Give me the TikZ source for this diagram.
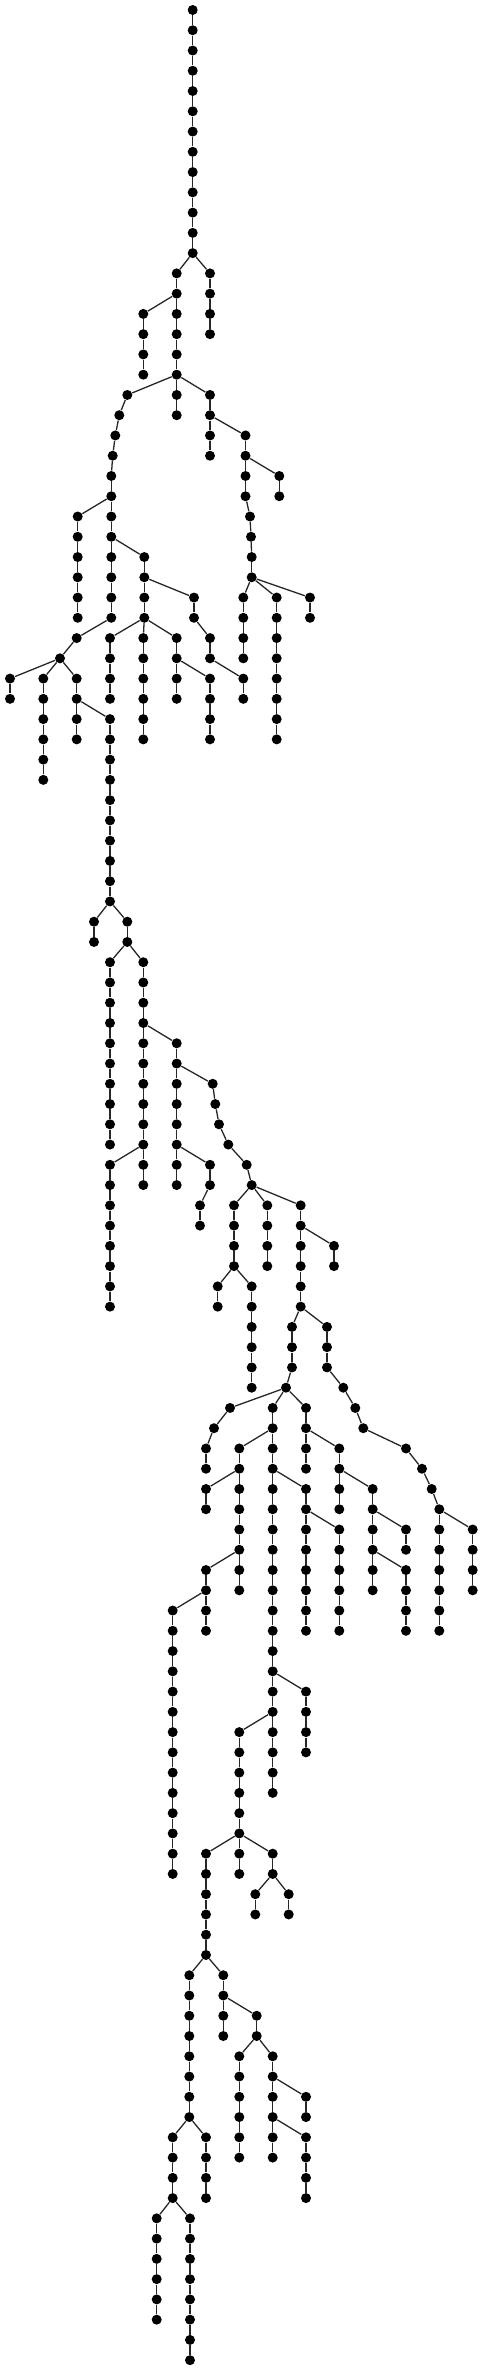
\documentclass[tikz,border=0pt]{standalone}
\usepackage{tikz}

\tikzset{
  dotnode/.style={circle,fill=black,inner sep=0pt,minimum size=5pt},
  link/.style={draw=black!85,line width=0.65pt}
}
% a vertical run of dots: [parent] name x first-level last-level
\newcommand{\chain}[5][]{%
  \foreach \l in {#4,...,#5}{%
    \node[dotnode] (#2-\l) at (#3,{-10-20.26*\l}) {};
    \ifnum\l>#4\relax\pgfmathtruncatemacro{\lp}{\l-1}\draw[link] (#2-\lp) -- (#2-\l);\fi
  }%
  \if\relax\detokenize{#1}\relax\else\draw[link] (#1) -- (#2-#4);\fi
}

\begin{document}
\begin{tikzpicture}[x=0.5pt,y=0.5pt]
	\useasboundingbox (0,0) rectangle (483,-2371);
	% top
	\chain{r}{192.7}{0}{12}
	\chain[r-12]{c}{210}{13}{16}
	\chain[r-12]{b}{176.7}{13}{18}
	\chain[b-14]{d}{143.3}{15}{18}
	\chain[b-18]{e}{176.7}{19}{20}
	\chain[b-18]{f}{210}{19}{22}
	\chain[f-20]{g}{245.5}{21}{24}
	\chain[g-24]{g}{250}{25}{25}
	\chain[g-25]{g}{251}{26}{26}
	\chain[g-26]{g}{251.7}{27}{28}
	\chain[g-22]{h}{279.3}{23}{24}
	\chain[b-18]{k}{127.3}{19}{19}
	\chain[k-19]{k}{119.3}{20}{20}
	\chain[k-20]{k}{115.3}{21}{21}
	\chain[k-21]{k}{112.7}{22}{22}
	\chain[k-22]{k}{111.3}{23}{30}
	\chain[k-24]{m}{77.7}{25}{30}
	\chain[k-26]{n}{144.3}{27}{30}
	\chain[n-28]{p}{194}{29}{30}
	\chain[p-30]{p}{210}{31}{32}
	\chain[p-32]{p}{243.3}{33}{34}
	\chain[g-28]{qa}{243.3}{29}{32}
	\chain[g-28]{qb}{276.7}{29}{36}
	\chain[g-28]{qc}{310}{29}{30}
	\chain[n-30]{sa}{110}{31}{34}
	\chain[n-30]{sb}{143.3}{31}{36}
	\chain[n-30]{sc}{176.7}{31}{34}
	\chain[sc-32]{sd}{210}{33}{36}
	\chain[k-30]{t}{76.7}{31}{31}
	\chain[t-31]{t}{60}{32}{32}
	\chain[t-32]{ua}{10}{33}{34}
	\chain[t-32]{ub}{43.3}{33}{38}
	\chain[t-32]{uc}{76.7}{33}{36}
	% long middle part
	\chain[uc-34]{v}{110}{35}{44}
	\chain[v-44]{wa}{94}{45}{46}
	\chain[v-44]{wb}{127.3}{45}{46}
	\chain[wb-46]{xa}{110}{47}{56}
	\chain[wb-46]{xb}{143.3}{47}{58}
	\chain[xb-50]{y}{176.7}{51}{58}
	\chain[xb-56]{z}{110}{57}{64}
	\chain[y-52]{aa}{212.7}{53}{53}
	\chain[aa-53]{aa}{215.3}{54}{54}
	\chain[aa-54]{aa}{219}{55}{55}
	\chain[aa-55]{aa}{228.3}{56}{56}
	\chain[aa-56]{aa}{246.7}{57}{57}
	\chain[aa-57]{aa}{251.7}{58}{58}
	\chain[y-56]{ab}{210}{57}{58}
	\chain[ab-58]{ab}{200}{59}{60}
	\chain[aa-58]{ac}{234}{59}{62}
	\chain[aa-58]{ad}{267.3}{59}{62}
	\chain[aa-58]{ae}{300.7}{59}{64}
	\chain[ac-62]{af}{217.7}{63}{64}
	\chain[ac-62]{ag}{251.7}{63}{68}
	\chain[ae-60]{ah}{334}{61}{62}
	\chain[ae-64]{ai}{292}{65}{67}
	\chain[ai-67]{ai}{286}{68}{68}
	\chain[ae-64]{aj}{327}{65}{67}
	\chain[aj-67]{aj}{343.3}{68}{68}
	\chain[aj-68]{aj}{355.3}{69}{69}
	\chain[aj-69]{aj}{363.3}{70}{70}
	\chain[aj-70]{aj}{406}{71}{71}
	\chain[aj-71]{aj}{422}{72}{72}
	\chain[aj-72]{aj}{431.7}{73}{73}
	\chain[aj-73]{aj}{439.3}{74}{74}
	\chain[aj-74]{aka}{439.3}{75}{80}
	\chain[aj-74]{akb}{472.7}{75}{78}
	\chain[ai-68]{al}{230}{69}{69}
	\chain[al-69]{al}{214}{70}{70}
	\chain[al-70]{al}{206}{71}{72}
	\chain[ai-68]{am}{272.7}{69}{88}
	\chain[ai-68]{an}{306}{69}{72}
	\chain[am-70]{ao}{239.3}{71}{78}
	\chain[am-72]{ap}{306}{73}{80}
	\chain[an-70]{aq}{339.3}{71}{74}
	\chain[aq-72]{ar}{372.7}{73}{78}
	\chain[ao-72]{as}{206}{73}{74}
	\chain[ap-74]{at}{339.3}{75}{80}
	\chain[ar-74]{au}{406}{75}{76}
	\chain[ar-76]{av}{406}{77}{80}
	\chain[ao-76]{aw}{206}{77}{80}
	\chain[aw-78]{ax}{172.7}{79}{92}
	% bottom
	\chain[am-82]{ay}{306}{83}{86}
	\chain[am-84]{az}{239.3}{85}{90}
	\chain[az-90]{ba}{206}{91}{96}
	\chain[az-90]{bb}{239.3}{91}{92}
	\chain[az-90]{bc}{272.7}{91}{92}
	\chain[bc-92]{bd}{255.3}{93}{94}
	\chain[bc-92]{be}{288.7}{93}{94}
	\chain[ba-96]{bf}{189.3}{97}{104}
	\chain[ba-96]{bg}{223.3}{97}{100}
	\chain[bg-98]{bh}{256.7}{99}{100}
	\chain[bh-100]{bi}{239.3}{101}{106}
	\chain[bh-100]{bj}{272.7}{101}{106}
	\chain[bj-102]{bk}{306}{103}{104}
	\chain[bj-104]{bl}{306}{105}{108}
	\chain[bf-104]{bm}{172.7}{105}{108}
	\chain[bf-104]{bn}{206}{105}{108}
	\chain[bm-108]{bo}{156.7}{109}{114}
	\chain[bm-108]{bp}{190}{109}{116}
\end{tikzpicture}
\end{document}
